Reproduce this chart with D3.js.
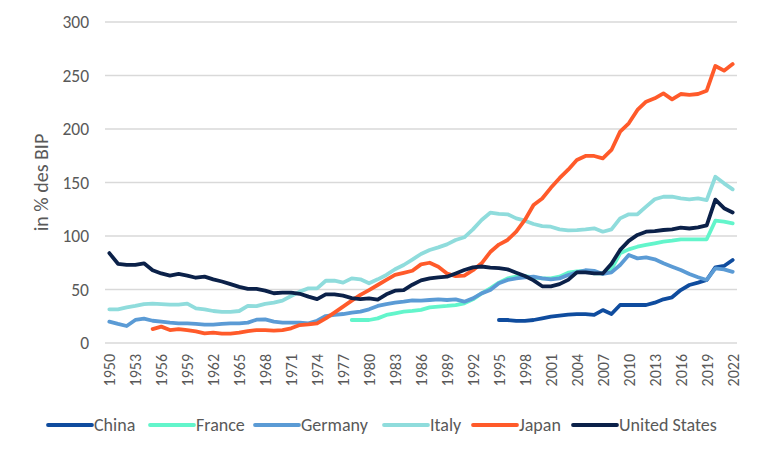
<!DOCTYPE html>
<html>
<head>
<meta charset="utf-8">
<script src="https://cdn.jsdelivr.net/npm/d3@7"></script>
<style>
  body { margin: 0; background: #fff; }
  text { font-family: Carlito, Lato, "Liberation Sans", sans-serif; fill: #595959; }
</style>
</head>
<body>
<div id="chart"></div>
<script>
// years on the category axis
const years = d3.range(1950, 2023);
const yTicks = [0, 50, 100, 150, 200, 250, 300];

// debt in % of GDP (null = no data)
const china = Array(45).fill(null).concat([
  21.5, 21.5, 20.6, 20.6, 21.5, 23, 24.6, 25.5, 26.5, 27,
  27, 26.2, 30.8, 27.1, 35.5, 35.5, 35.5, 35.5, 37.7, 40.8,
  42.7, 49.5, 54.2, 56.4, 58.9, 70.7, 72, 77.6]);

const france = Array(28).fill(null).concat([
  21.5, 21.5, 21.5, 23, 26.2, 27.7, 29.3, 30, 31, 33.3,
  34, 34.6, 35.5, 37.1, 40.8, 46.4, 51.1, 56.4, 60.4, 62,
  62.6, 61.4, 60.4, 60.4, 62, 65.7, 67, 67.5, 65, 65,
  69, 83.8, 87.5, 90, 91.6, 93.1, 94.7, 95.6, 96.9, 96.9,
  96.9, 96.9, 114.3, 113.4, 111.8]);

const germany = [
  19.9, 17.8, 15.9, 21.5, 22.7, 20.8, 19.9, 19, 18.4, 18.4,
  17.8, 17.1, 17.1, 17.8, 18.4, 18.4, 19, 21.8, 22, 19.9,
  19, 19, 19, 18.4, 20.8, 25.2, 26.2, 27.1, 28.4, 29.3,
  31.5, 34.6, 36.4, 37.7, 38.6, 39.8, 39.6, 40.2, 40.8, 40.2,
  40.8, 38.6, 41.7, 46.4, 49.5, 55.8, 58.9, 60.4, 61.4, 62,
  60.4, 59.5, 60.4, 63.6, 66, 68, 67.5, 64.5, 66, 72.9,
  82.2, 79.1, 80.1, 78.2, 74.5, 71.3, 68.2, 64.5, 61.4, 58.9,
  69.8, 68.8, 66.5];

const italy = [
  31.5, 31.5, 33.3, 34.6, 36.4, 36.8, 36.4, 35.8, 35.8, 36.8,
  32.4, 31.5, 29.9, 29, 29, 29.9, 34.6, 34.5, 36.6, 37.7,
  39.6, 43.9, 48, 51.1, 51.1, 58.2, 58.2, 56.4, 60.4, 59.5,
  55.8, 59.5, 63.6, 68.9, 72.9, 78, 83.2, 86.9, 89.4, 92.2,
  96.3, 98.8, 106.2, 115, 121.8, 120.6, 120.3, 116.5, 114.3, 111.2,
  109.3, 108.7, 106.2, 105.3, 105.5, 106.2, 107.2, 104, 106.2, 116.5,
  120.3, 120.3, 127.4, 134.3, 136.7, 136.7, 135.2, 134.3, 135.2, 133.6,
  155.4, 149.2, 143.6];

const japan = Array(5).fill(null).concat([
  13, 15.3, 12.1, 13, 12.1, 10.9, 9, 9.6, 8.7, 8.7,
  9.6, 11.2, 12, 12, 11.5, 12, 13.7, 16.8, 17.4, 18.4,
  23, 28.4, 34, 39.6, 44.9, 49.5, 54.2, 58.9, 63.6, 65.5,
  67.5, 73.5, 75, 71.3, 65, 62.5, 63, 68, 74.5, 85,
  92, 96.3, 104, 115, 129, 135, 145, 154, 162, 171,
  174.8, 174.8, 172.6, 180.4, 197.5, 205.3, 217.8, 225.5, 228.7, 233.3,
  227.7, 232.7, 231.8, 232.7, 235.8, 258.9, 254.5, 260.7]);

const unitedStates = [
  84, 74, 73, 73, 74.5, 68, 65, 63, 64.5, 63,
  61, 62, 59.5, 57.5, 55, 52.5, 50.5, 50.5, 49, 46.5,
  47, 47, 46, 43.3, 41, 45.5, 45.5, 44.2, 42, 41,
  41.7, 40.5, 45.5, 48.9, 49.5, 54.5, 58.5, 60.4, 61.4, 62,
  65, 68.2, 70.7, 71.5, 70.4, 70, 68.8, 65.7, 62.6, 58.5,
  53, 53, 55, 59, 66, 66, 65, 65, 74, 87,
  95.5, 101, 104, 104.6, 105.6, 106.2, 107.8, 107, 108, 110,
  134, 126, 122];

const seriesNames = ["China", "France", "Germany", "Italy", "Japan", "United States"];
const seriesValues = [china, france, germany, italy, japan, unitedStates];
const seriesColors = ["#0f4c9e", "#63f5cb", "#5b9bd5", "#8fdcdc", "#ff5a2a", "#0b2149"];

const width = 760, height = 456;
const plotLeft = 105, plotRight = 737, plotTop = 22, plotBottom = 343;

const svg = d3.select("#chart").append("svg")
  .attr("width", width)
  .attr("height", height);

const x = d3.scalePoint()
  .domain(years)
  .range([plotLeft, plotRight])
  .padding(0.5);

const y = d3.scaleLinear()
  .domain([0, 300])
  .range([plotBottom, plotTop]);

// gridlines
svg.append("g")
  .selectAll("line")
  .data(yTicks)
  .join("line")
    .attr("x1", plotLeft)
    .attr("x2", plotRight)
    .attr("y1", d => y(d))
    .attr("y2", d => y(d))
    .style("stroke", "#d9d9d9")
    .style("stroke-width", 1.3);

// y axis labels
const yAxis = svg.append("g")
  .attr("transform", `translate(${plotLeft - 16},0)`)
  .call(d3.axisLeft(y).tickValues(yTicks).tickSize(0).tickPadding(0));
yAxis.select(".domain").remove();
yAxis.selectAll("text")
  .style("font-size", "17.5px")
  .style("fill", "#595959")
  .style("font-family", "Carlito, Lato, sans-serif");

// x axis labels, every third year, rotated
const xAxis = svg.append("g")
  .attr("transform", `translate(0,${plotBottom + 11})`)
  .call(d3.axisBottom(x).tickValues(years.filter(d => (d - 1950) % 3 === 0)).tickSize(0).tickPadding(0));
xAxis.select(".domain").remove();
xAxis.selectAll("text")
  .attr("transform", "rotate(-90)")
  .attr("x", 0)
  .attr("y", 0)
  .attr("dy", "0.35em")
  .style("text-anchor", "end")
  .style("font-size", "16px")
  .style("fill", "#595959")
  .style("font-family", "Carlito, Lato, sans-serif");

// y axis title
svg.append("text")
  .attr("transform", `translate(48,${(plotTop + plotBottom) / 2}) rotate(-90)`)
  .style("text-anchor", "middle")
  .style("font-size", "20px")
  .text("in % des BIP");

// lines
const line = d3.line()
  .defined(d => d.v != null)
  .x(d => x(d.year))
  .y(d => y(d.v));

seriesValues.forEach(function(vals, i) {
  svg.append("path")
    .datum(years.map((yr, j) => ({year: yr, v: vals[j]})))
    .attr("d", line)
    .style("fill", "none")
    .style("stroke", seriesColors[i])
    .style("stroke-width", 3.8)
    .style("stroke-linejoin", "round")
    .style("stroke-linecap", "round");
});

// legend
const legendX = [48, 150, 255, 384, 473, 573];
const legend = svg.append("g").attr("transform", "translate(0,425)");
seriesNames.forEach(function(name, i) {
  legend.append("line")
    .attr("x1", legendX[i])
    .attr("x2", legendX[i] + 44)
    .attr("y1", 0)
    .attr("y2", 0)
    .style("stroke", seriesColors[i])
    .style("stroke-width", 3.8)
    .style("stroke-linecap", "round");
  legend.append("text")
    .attr("x", legendX[i] + 46)
    .attr("y", 0)
    .attr("dy", "0.35em")
    .style("font-size", "18px")
    .text(name);
});
</script>
</body>
</html>
